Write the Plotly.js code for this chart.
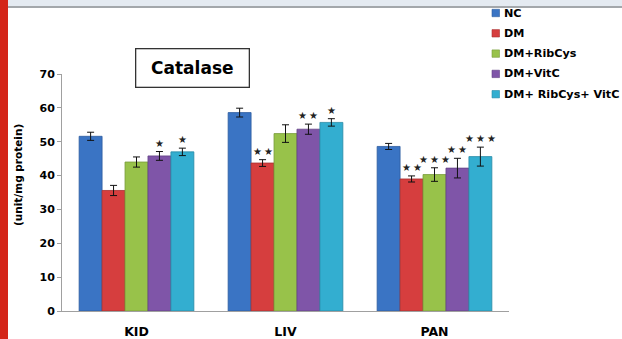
<!DOCTYPE html>
<html>
<head>
<meta charset="utf-8">
<script src="https://cdn.plot.ly/plotly-3.0.1.min.js"></script>
<style>
html,body{margin:0;padding:0;background:#fff;}
#chart{width:622px;height:339px;}
</style>
</head>
<body>
<div id="chart"></div>
<script>
// ---- data ----
var categories = ["KID", "LIV", "PAN"];
var seriesNames = ["NC", "DM", "DM+RibCys", "DM+VitC", "DM+ RibCys+ VitC"];
var valNC      = [51.6, 58.6, 48.6];
var valDM      = [35.6, 43.7, 39.0];
var valRibCys  = [44.0, 52.4, 40.3];
var valVitC    = [45.8, 53.7, 42.2];
var valCombo   = [47.0, 55.7, 45.6];
var errNC      = [1.2, 1.3, 0.9];
var errDM      = [1.5, 1.0, 0.9];
var errRibCys  = [1.5, 2.6, 2.0];
var errVitC    = [1.3, 1.5, 2.9];
var errCombo   = [1.1, 1.1, 2.8];
var starsNC     = [0, 0, 0];
var starsDM     = [0, 2, 2];
var starsRibCys = [0, 0, 3];
var starsVitC   = [1, 2, 2];
var starsCombo  = [1, 1, 3];
var yTicks = [0, 10, 20, 30, 40, 50, 60, 70];

var values = [valNC, valDM, valRibCys, valVitC, valCombo];
var errors = [errNC, errDM, errRibCys, errVitC, errCombo];
var stars  = [starsNC, starsDM, starsRibCys, starsVitC, starsCombo];
var colors = ["#3a74c4", "#d63e3e", "#98c24a", "#7f55a8", "#33aed0"];
var edges  = ["#2d5c9e", "#a83030", "#789a3a", "#634285", "#288aa6"];

var W = 622, H = 339;
var M = {l: 62, r: 113, t: 74, b: 28};
var plotW = W - M.l - M.r, plotH = H - M.t - M.b;
var bargap = 0.23;
var barPx = plotW / categories.length * (1 - bargap) / seriesNames.length;
var FONT = "DejaVu Sans, Arial, sans-serif";

var traces = seriesNames.map(function (name, i) {
  return {
    type: "bar",
    name: name,
    x: categories,
    y: values[i],
    marker: {color: colors[i], line: {color: edges[i], width: 0.8}},
    error_y: {type: "data", array: errors[i], visible: true, color: "#111", thickness: 1, width: 3.5},
    showlegend: false,
    hoverinfo: "skip"
  };
});

var annotations = [];
seriesNames.forEach(function (name, i) {
  categories.forEach(function (c, j) {
    var n = stars[i][j];
    if (n > 0) {
      annotations.push({
        x: c, y: values[i][j] + errors[i][j], xref: "x", yref: "y",
        xshift: (i - (seriesNames.length - 1) / 2) * barPx,
        yshift: 1,
        text: new Array(n).fill("\u2605").join("\u2009"),
        showarrow: false, yanchor: "bottom", xanchor: "center",
        font: {family: FONT, size: 10, color: "#222"}
      });
    }
  });
});

function px2x(p) { return (p - M.l) / plotW; }
function py2y(p) { return (H - M.b - p) / plotH; }

// title box
annotations.push({
  text: "<b>Catalase</b>", xref: "paper", yref: "paper",
  x: px2x(192), y: py2y(68.5), xanchor: "center", yanchor: "middle",
  showarrow: false, width: 112, height: 37, borderpad: 0,
  bordercolor: "#333", borderwidth: 1.3, bgcolor: "#fff",
  font: {family: FONT, size: 17, color: "#000"}
});
// y axis title
annotations.push({
  text: "<b>(unit/mg protein)</b>", xref: "paper", yref: "paper",
  x: px2x(18), y: py2y(175), xanchor: "center", yanchor: "middle",
  textangle: -90, showarrow: false,
  font: {family: FONT, size: 10.5, color: "#000"}
});

// legend (drawn manually)
var shapes = [];
seriesNames.forEach(function (name, i) {
  var cy = 13 + i * 20.3;
  shapes.push({
    type: "rect", xref: "paper", yref: "paper",
    x0: px2x(492), x1: px2x(499.5), y0: py2y(cy + 3.7), y1: py2y(cy - 3.7),
    fillcolor: colors[i], line: {color: edges[i], width: 0.6}
  });
  annotations.push({
    text: "<b>" + name + "</b>", xref: "paper", yref: "paper",
    x: px2x(501.5), y: py2y(cy), xanchor: "left", yanchor: "middle",
    showarrow: false, font: {family: FONT, size: 11.2, color: "#000"}
  });
});

// page decorations: header band and red side bar
shapes.push({type: "rect", xref: "paper", yref: "paper",
  x0: px2x(0), x1: px2x(W), y0: py2y(6), y1: py2y(0),
  fillcolor: "#e4eaf1", line: {width: 0}, layer: "below"});
shapes.push({type: "rect", xref: "paper", yref: "paper",
  x0: px2x(0), x1: px2x(W), y0: py2y(8), y1: py2y(6),
  fillcolor: "#a3a7ab", line: {width: 0}, layer: "below"});
shapes.push({type: "rect", xref: "paper", yref: "paper",
  x0: px2x(0), x1: px2x(8), y0: py2y(H), y1: py2y(0),
  fillcolor: "#d42518", line: {width: 0}});

var layout = {
  width: W, height: H,
  margin: M,
  paper_bgcolor: "#fff", plot_bgcolor: "#fff",
  barmode: "group", bargap: bargap, bargroupgap: 0,
  showlegend: false,
  xaxis: {
    type: "category", showline: true, linecolor: "#a0a0a0", linewidth: 1,
    ticks: "", showgrid: false, zeroline: false,
    tickfont: {family: FONT, size: 12.5, color: "#000", weight: "bold"},
    ticklabelstandoff: 9
  },
  yaxis: {
    range: [0, 70], tickvals: yTicks, ticktext: yTicks.map(function (v) { return "<b>" + v + "</b>"; }),
    showline: true, linecolor: "#a0a0a0", linewidth: 1,
    ticks: "outside", ticklen: 4, tickcolor: "#a0a0a0",
    showgrid: false, zeroline: false,
    tickfont: {family: FONT, size: 11, color: "#000"}
  },
  annotations: annotations,
  shapes: shapes
};

Plotly.newPlot("chart", traces, layout, {staticPlot: true, displayModeBar: false});
</script>
</body>
</html>
